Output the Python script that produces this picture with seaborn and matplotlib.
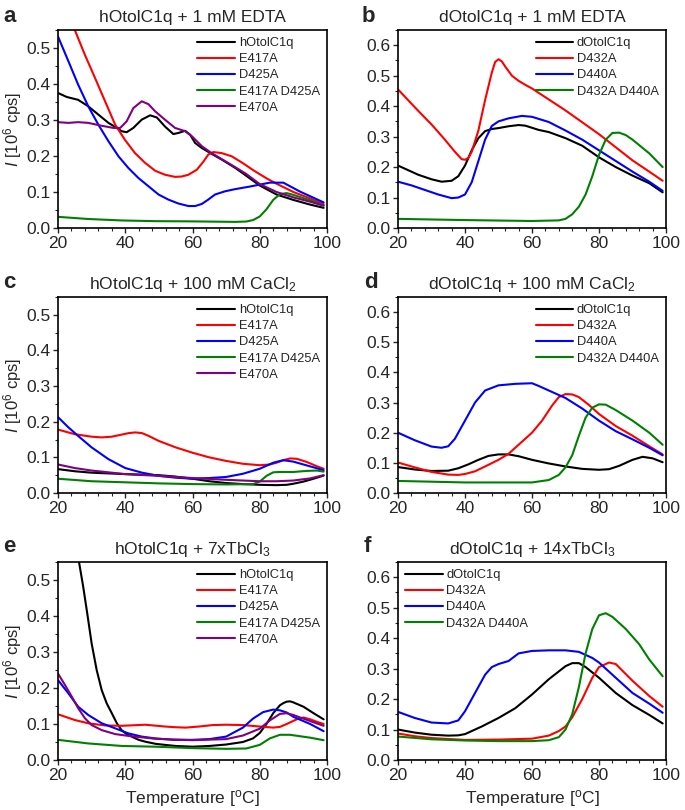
import numpy as np
import pandas as pd
import matplotlib
matplotlib.use('Agg')
import matplotlib.pyplot as plt
from matplotlib.ticker import MultipleLocator, AutoMinorLocator, FormatStrFormatter
import seaborn as sns

# ---- panel a: hOtolC1q + 1 mM EDTA
a_h_T = [20, 22.6, 26, 29, 32, 35, 37.5, 38.9, 40.4, 42.4, 44.9, 47.4, 49.4, 51.8, 54.3, 55.8, 57.8, 59.3, 60.8, 62.8, 65.7, 68.7, 72.7, 76, 80, 85, 90, 95, 99]
a_h_I = [0.375, 0.364, 0.356, 0.338, 0.315, 0.292, 0.278, 0.269, 0.266, 0.278, 0.301, 0.313, 0.307, 0.282, 0.261, 0.264, 0.27, 0.259, 0.236, 0.222, 0.206, 0.19, 0.167, 0.145, 0.118, 0.093, 0.078, 0.065, 0.056]
a_e417_T = [24.5, 25, 28, 31, 34, 37, 39.9, 42.9, 45.9, 48.9, 51.8, 54.8, 56.8, 58.8, 61.3, 63.3, 64.7, 66.2, 68.7, 71.7, 75, 78, 82, 85, 90, 95, 99]
a_e417_I = [0.565, 0.55, 0.481, 0.417, 0.352, 0.287, 0.245, 0.208, 0.181, 0.159, 0.148, 0.142, 0.143, 0.148, 0.162, 0.185, 0.204, 0.211, 0.208, 0.199, 0.18, 0.161, 0.138, 0.123, 0.1, 0.082, 0.066]
a_d425_T = [20, 23.1, 26, 29, 32, 35, 38, 40.9, 43.9, 46.9, 49.9, 52.8, 55.8, 58.8, 60.8, 62.8, 64.7, 66.7, 69.7, 72.7, 77, 83, 87, 92, 96, 99]
a_d425_I = [0.532, 0.463, 0.398, 0.338, 0.287, 0.241, 0.199, 0.167, 0.139, 0.116, 0.093, 0.079, 0.068, 0.061, 0.061, 0.067, 0.079, 0.093, 0.102, 0.108, 0.115, 0.126, 0.126, 0.101, 0.084, 0.071]
a_dm_T = [20, 29, 38.9, 48.9, 58.8, 72.7, 76, 78, 80, 82, 84, 86, 88, 90, 95, 99]
a_dm_I = [0.031, 0.025, 0.021, 0.019, 0.0185, 0.017, 0.018, 0.022, 0.032, 0.052, 0.078, 0.094, 0.097, 0.092, 0.077, 0.063]
a_e470_T = [20, 23.1, 26, 29, 33, 36.5, 38.5, 40.4, 42.4, 44.9, 46.9, 48.9, 51.8, 54.8, 57.8, 59.8, 62.8, 65.7, 72.7, 76, 80, 85, 90, 95, 99]
a_e470_I = [0.294, 0.292, 0.294, 0.292, 0.284, 0.278, 0.278, 0.296, 0.333, 0.352, 0.344, 0.324, 0.301, 0.278, 0.269, 0.255, 0.227, 0.208, 0.169, 0.15, 0.122, 0.1, 0.085, 0.073, 0.062]

# ---- panel b: dOtolC1q + 1 mM EDTA
b_d_T = [20, 23, 26, 30, 33, 36, 38, 40, 42, 44, 46, 48, 50, 53, 56, 58, 60, 62, 65, 70, 75, 80, 85, 90, 95, 99]
b_d_I = [0.205, 0.19, 0.175, 0.16, 0.152, 0.155, 0.17, 0.205, 0.255, 0.295, 0.318, 0.325, 0.328, 0.334, 0.338, 0.336, 0.329, 0.322, 0.315, 0.295, 0.27, 0.232, 0.2, 0.172, 0.147, 0.117]
b_d432_T = [20, 23, 26, 30, 34, 37, 39, 40, 41, 42, 44, 46, 48, 49, 50, 51, 52, 54, 56, 58, 60, 65, 70, 75, 80, 85, 90, 95, 99]
b_d432_I = [0.455, 0.42, 0.385, 0.34, 0.29, 0.25, 0.226, 0.224, 0.23, 0.25, 0.32, 0.42, 0.51, 0.545, 0.554, 0.547, 0.53, 0.5, 0.483, 0.47, 0.458, 0.422, 0.386, 0.347, 0.308, 0.265, 0.222, 0.185, 0.155]
b_d440_T = [20, 24, 28, 32, 36, 38, 40, 42, 44, 46, 48, 50, 53, 57, 60, 65, 70, 75, 80, 85, 90, 95, 99]
b_d440_I = [0.152, 0.14, 0.125, 0.11, 0.098, 0.1, 0.11, 0.15, 0.22, 0.29, 0.335, 0.35, 0.36, 0.368, 0.365, 0.348, 0.32, 0.29, 0.255, 0.22, 0.185, 0.152, 0.122]
b_dm_T = [20, 40, 60, 68, 70, 72, 74, 76, 78, 80, 82, 84, 86, 88, 90, 95, 99]
b_dm_I = [0.03, 0.026, 0.023, 0.025, 0.03, 0.045, 0.07, 0.11, 0.17, 0.24, 0.29, 0.312, 0.313, 0.305, 0.29, 0.245, 0.2]

# ---- panel c: hOtolC1q + 100 mM CaCl2
c_h_T = [20, 25, 30, 40, 50, 55, 60, 65, 70, 75, 80, 85, 88, 90, 93, 96, 99]
c_h_I = [0.067, 0.061, 0.057, 0.053, 0.05, 0.046, 0.04, 0.033, 0.028, 0.025, 0.023, 0.022, 0.023, 0.026, 0.032, 0.04, 0.049]
c_e417_T = [20, 25, 30, 33, 36, 39, 41, 43, 45, 47, 50, 55, 60, 65, 70, 75, 80, 83, 85, 87, 89, 91, 94, 97, 99]
c_e417_I = [0.178, 0.165, 0.158, 0.156, 0.158, 0.164, 0.168, 0.17, 0.168, 0.16, 0.146, 0.128, 0.113, 0.1, 0.09, 0.082, 0.078, 0.08, 0.085, 0.092, 0.097, 0.096, 0.087, 0.075, 0.068]
c_d425_T = [20, 23, 26, 30, 35, 40, 45, 50, 55, 60, 65, 70, 75, 80, 84, 87, 90, 93, 96, 99]
c_d425_I = [0.213, 0.185, 0.16, 0.128, 0.095, 0.07, 0.057, 0.048, 0.043, 0.04, 0.042, 0.045, 0.054, 0.068, 0.085, 0.092, 0.088, 0.08, 0.072, 0.064]
c_dm_T = [20, 30, 40, 50, 60, 70, 78, 80, 82, 84, 86, 90, 94, 97, 99]
c_dm_I = [0.04, 0.033, 0.03, 0.027, 0.025, 0.024, 0.025, 0.032, 0.048, 0.058, 0.059, 0.059, 0.062, 0.063, 0.06]
c_e470_T = [20, 25, 30, 40, 50, 60, 70, 80, 85, 90, 95, 99]
c_e470_I = [0.08, 0.07, 0.063, 0.053, 0.048, 0.042, 0.037, 0.033, 0.033, 0.035, 0.041, 0.05]

# ---- panel d: dOtolC1q + 100 mM CaCl2
d_d_T = [20, 25, 30, 35, 38, 41, 44, 47, 50, 53, 56, 60, 65, 70, 75, 80, 83, 86, 88, 90, 93, 96, 99]
d_d_I = [0.086, 0.078, 0.073, 0.074, 0.082, 0.095, 0.11, 0.123, 0.128, 0.128, 0.122, 0.11, 0.098, 0.088, 0.08, 0.077, 0.079, 0.09, 0.1, 0.11, 0.12, 0.115, 0.102]
d_d432_T = [20, 25, 30, 35, 38, 40, 43, 46, 50, 53, 56, 60, 63, 66, 68, 70, 72, 74, 77, 80, 85, 90, 95, 99]
d_d432_I = [0.101, 0.085, 0.07, 0.061, 0.06, 0.063, 0.072, 0.088, 0.11, 0.13, 0.16, 0.2, 0.24, 0.29, 0.318, 0.328, 0.327, 0.318, 0.292, 0.262, 0.222, 0.19, 0.155, 0.128]
d_d440_T = [20, 25, 30, 33, 35, 37, 40, 43, 46, 50, 55, 60, 62, 65, 70, 75, 80, 85, 90, 95, 99]
d_d440_I = [0.2, 0.175, 0.154, 0.15, 0.155, 0.18, 0.24, 0.3, 0.34, 0.357, 0.362, 0.364, 0.355, 0.34, 0.315, 0.28, 0.24, 0.205, 0.178, 0.15, 0.125]
d_dm_T = [20, 40, 60, 65, 68, 70, 72, 74, 76, 78, 80, 82, 85, 90, 95, 99]
d_dm_I = [0.04, 0.035, 0.035, 0.043, 0.06, 0.085, 0.125, 0.19, 0.25, 0.283, 0.294, 0.293, 0.275, 0.24, 0.2, 0.16]

# ---- panel e: hOtolC1q + 7xTbCl3
e_h_T = [26.0, 26.25, 27.5, 28.7, 30, 31.5, 33, 34.5, 36, 37.5, 38.9, 40.4, 41.9, 44, 45.9, 49, 51.8, 55, 60, 65, 70, 75, 78, 80, 82, 84, 86, 87, 88, 89, 90, 93, 96, 99]
e_h_I = [0.57, 0.55, 0.481, 0.407, 0.324, 0.25, 0.194, 0.157, 0.13, 0.102, 0.083, 0.072, 0.065, 0.056, 0.051, 0.045, 0.042, 0.039, 0.037, 0.039, 0.043, 0.05, 0.06, 0.075, 0.1, 0.13, 0.152, 0.158, 0.162, 0.163, 0.16, 0.148, 0.13, 0.113]
e_e417_T = [20, 25, 29, 34, 39, 45.9, 51.8, 55, 58, 62, 66, 70, 75, 80, 84, 86, 88, 91, 93, 95, 97, 99]
e_e417_I = [0.127, 0.111, 0.102, 0.096, 0.095, 0.098, 0.093, 0.091, 0.09, 0.093, 0.097, 0.098, 0.097, 0.093, 0.09, 0.092, 0.1, 0.113, 0.118, 0.113, 0.106, 0.1]
e_d425_T = [20, 23.1, 26, 29, 33, 37, 40.9, 44.9, 48.9, 54.3, 60, 65, 70, 75, 78, 81, 84, 86, 88, 90, 95, 99]
e_d425_I = [0.222, 0.185, 0.148, 0.125, 0.102, 0.088, 0.074, 0.065, 0.06, 0.056, 0.056, 0.058, 0.065, 0.09, 0.115, 0.133, 0.14, 0.138, 0.132, 0.12, 0.1, 0.08]
e_dm_T = [20, 29, 39, 48.9, 54.3, 60, 70, 76, 80, 83, 86, 89, 95, 99]
e_dm_I = [0.056, 0.046, 0.039, 0.037, 0.035, 0.033, 0.031, 0.032, 0.042, 0.06, 0.07, 0.07, 0.062, 0.055]
e_e470_T = [20, 22.1, 24.1, 26, 28, 30, 33, 37, 40.9, 44.9, 48.9, 54.3, 60, 70, 75, 80, 83, 86, 88, 90, 95, 99]
e_e470_I = [0.24, 0.208, 0.176, 0.144, 0.116, 0.097, 0.083, 0.072, 0.067, 0.063, 0.059, 0.057, 0.055, 0.058, 0.068, 0.087, 0.11, 0.128, 0.13, 0.125, 0.108, 0.095]

# ---- panel f: dOtolC1q + 14xTbCl3
f_d_T = [20, 25, 30, 35, 38, 40, 45, 50, 55, 60, 65, 70, 72, 74, 76, 80, 85, 90, 95, 99]
f_d_I = [0.1, 0.09, 0.083, 0.08, 0.081, 0.085, 0.11, 0.138, 0.17, 0.215, 0.265, 0.308, 0.318, 0.318, 0.305, 0.27, 0.22, 0.18, 0.148, 0.12]
f_d432_T = [20, 25, 30, 40, 50, 60, 65, 68, 70, 72, 75, 78, 80, 83, 85, 90, 95, 99]
f_d432_I = [0.087, 0.078, 0.072, 0.066, 0.067, 0.07, 0.08, 0.095, 0.11, 0.14, 0.2, 0.27, 0.305, 0.32, 0.315, 0.26, 0.21, 0.175]
f_d440_T = [20, 25, 30, 35, 38, 40, 43, 46, 48, 50, 53, 56, 60, 65, 70, 74, 78, 80, 85, 90, 95, 99]
f_d440_I = [0.158, 0.138, 0.123, 0.12, 0.13, 0.16, 0.22, 0.28, 0.305, 0.315, 0.325, 0.35, 0.358, 0.36, 0.36, 0.355, 0.335, 0.32, 0.27, 0.22, 0.185, 0.155]
f_dm_T = [20, 30, 40, 50, 60, 65, 68, 70, 72, 74, 76, 78, 80, 82, 84, 88, 92, 95, 99]
f_dm_I = [0.077, 0.068, 0.064, 0.062, 0.062, 0.065, 0.075, 0.1, 0.15, 0.24, 0.35, 0.43, 0.475, 0.482, 0.47, 0.43, 0.38, 0.33, 0.275]

h_names = ['hOtolC1q', 'E417A', 'D425A', 'E417A D425A', 'E470A']
d_names = ['dOtolC1q', 'D432A', 'D440A', 'D432A D440A']
h_colors = ['#000000', '#ff0000', '#0000ff', '#008000', '#800080']
d_colors = ['#000000', '#ff0000', '#0000ff', '#008000']

panels = [
    ('a', 'hOtolC1q + 1 mM EDTA', h_names, h_colors,
     [(a_h_T, a_h_I), (a_e417_T, a_e417_I), (a_d425_T, a_d425_I), (a_dm_T, a_dm_I), (a_e470_T, a_e470_I)]),
    ('b', 'dOtolC1q + 1 mM EDTA', d_names, d_colors,
     [(b_d_T, b_d_I), (b_d432_T, b_d432_I), (b_d440_T, b_d440_I), (b_dm_T, b_dm_I)]),
    ('c', 'hOtolC1q + 100 mM CaCl$_2$', h_names, h_colors,
     [(c_h_T, c_h_I), (c_e417_T, c_e417_I), (c_d425_T, c_d425_I), (c_dm_T, c_dm_I), (c_e470_T, c_e470_I)]),
    ('d', 'dOtolC1q + 100 mM CaCl$_2$', d_names, d_colors,
     [(d_d_T, d_d_I), (d_d432_T, d_d432_I), (d_d440_T, d_d440_I), (d_dm_T, d_dm_I)]),
    ('e', 'hOtolC1q + 7xTbCl$_3$', h_names, h_colors,
     [(e_h_T, e_h_I), (e_e417_T, e_e417_I), (e_d425_T, e_d425_I), (e_dm_T, e_dm_I), (e_e470_T, e_e470_I)]),
    ('f', 'dOtolC1q + 14xTbCl$_3$', d_names, d_colors,
     [(f_d_T, f_d_I), (f_d432_T, f_d432_I), (f_d440_T, f_d440_I), (f_dm_T, f_dm_I)]),
]

sns.set_style('ticks')
plt.rcParams['font.family'] = ['Liberation Sans', 'DejaVu Sans']
plt.rcParams['mathtext.fontset'] = 'custom'
plt.rcParams['mathtext.rm'] = 'Liberation Sans'
plt.rcParams['mathtext.it'] = 'Liberation Sans:italic'

W, H = 685, 810
fig = plt.figure(figsize=(W / 100, H / 100), dpi=100)

# axes boxes in pixels
col_x = [(58, 327), (398, 666)]
row_y = [(30, 228), (297, 493), (562, 760)]
letter_pos = [(3, 22), (362, 22), (3, 288), (364, 288), (3, 552), (364, 552)]

for i, (letter, title, names, colors, series) in enumerate(panels):
    r, c = divmod(i, 2)
    x0, x1 = col_x[c]
    y0, y1 = row_y[r]
    ax = fig.add_axes([x0 / W, 1 - y1 / H, (x1 - x0) / W, (y1 - y0) / H])

    df = pd.concat([pd.DataFrame({'T': t, 'I': v, 'sample': n})
                    for (t, v), n in zip(series, names)], ignore_index=True)
    sns.lineplot(data=df, x='T', y='I', hue='sample', hue_order=names,
                 palette=colors, estimator=None, linewidth=1.5, ax=ax)

    ax.set_xlim(20, 100)
    ax.set_ylim(0, 0.55 if c == 0 else 0.65)
    ax.xaxis.set_major_locator(MultipleLocator(20))
    ax.xaxis.set_minor_locator(MultipleLocator(4))
    ax.yaxis.set_major_locator(MultipleLocator(0.1))
    ax.yaxis.set_minor_locator(AutoMinorLocator(2))
    ax.yaxis.set_major_formatter(FormatStrFormatter('%.1f'))
    ax.tick_params(which='major', direction='out', length=3.5, width=1.0, labelsize=12.5, pad=2)
    ax.tick_params(which='minor', direction='out', length=2, width=0.8)
    for sp in ax.spines.values():
        sp.set_visible(True)
        sp.set_color('black')
        sp.set_linewidth(1.2)

    ax.set_title(title, fontsize=12.5, pad=6)
    if c == 0:
        ax.set_ylabel('$I$ [10$^6$ cps]', fontsize=12)
        ax.yaxis.set_label_coords(-0.125, 0.5)
    else:
        ax.set_ylabel('')
    if r == 2:
        ax.set_xlabel('Temperature [$^{\\mathrm{o}}$C]', fontsize=12.5)
        ax.xaxis.set_label_coords(0.5, -0.14)
    else:
        ax.set_xlabel('')

    handles, labels = ax.get_legend_handles_labels()
    loc = 'upper left' if letter == 'f' else 'upper right'
    ax.legend(handles, labels, loc=loc, frameon=False, fontsize=9.3,
              handlelength=2.9, handletextpad=0.3, labelspacing=0.32,
              borderaxespad=0.25, borderpad=0.3)

    lx, ly = letter_pos[i]
    fig.text(lx / W, 1 - ly / H, letter, fontsize=16, fontweight='bold', va='baseline')

fig.savefig('out.png', dpi=100)
